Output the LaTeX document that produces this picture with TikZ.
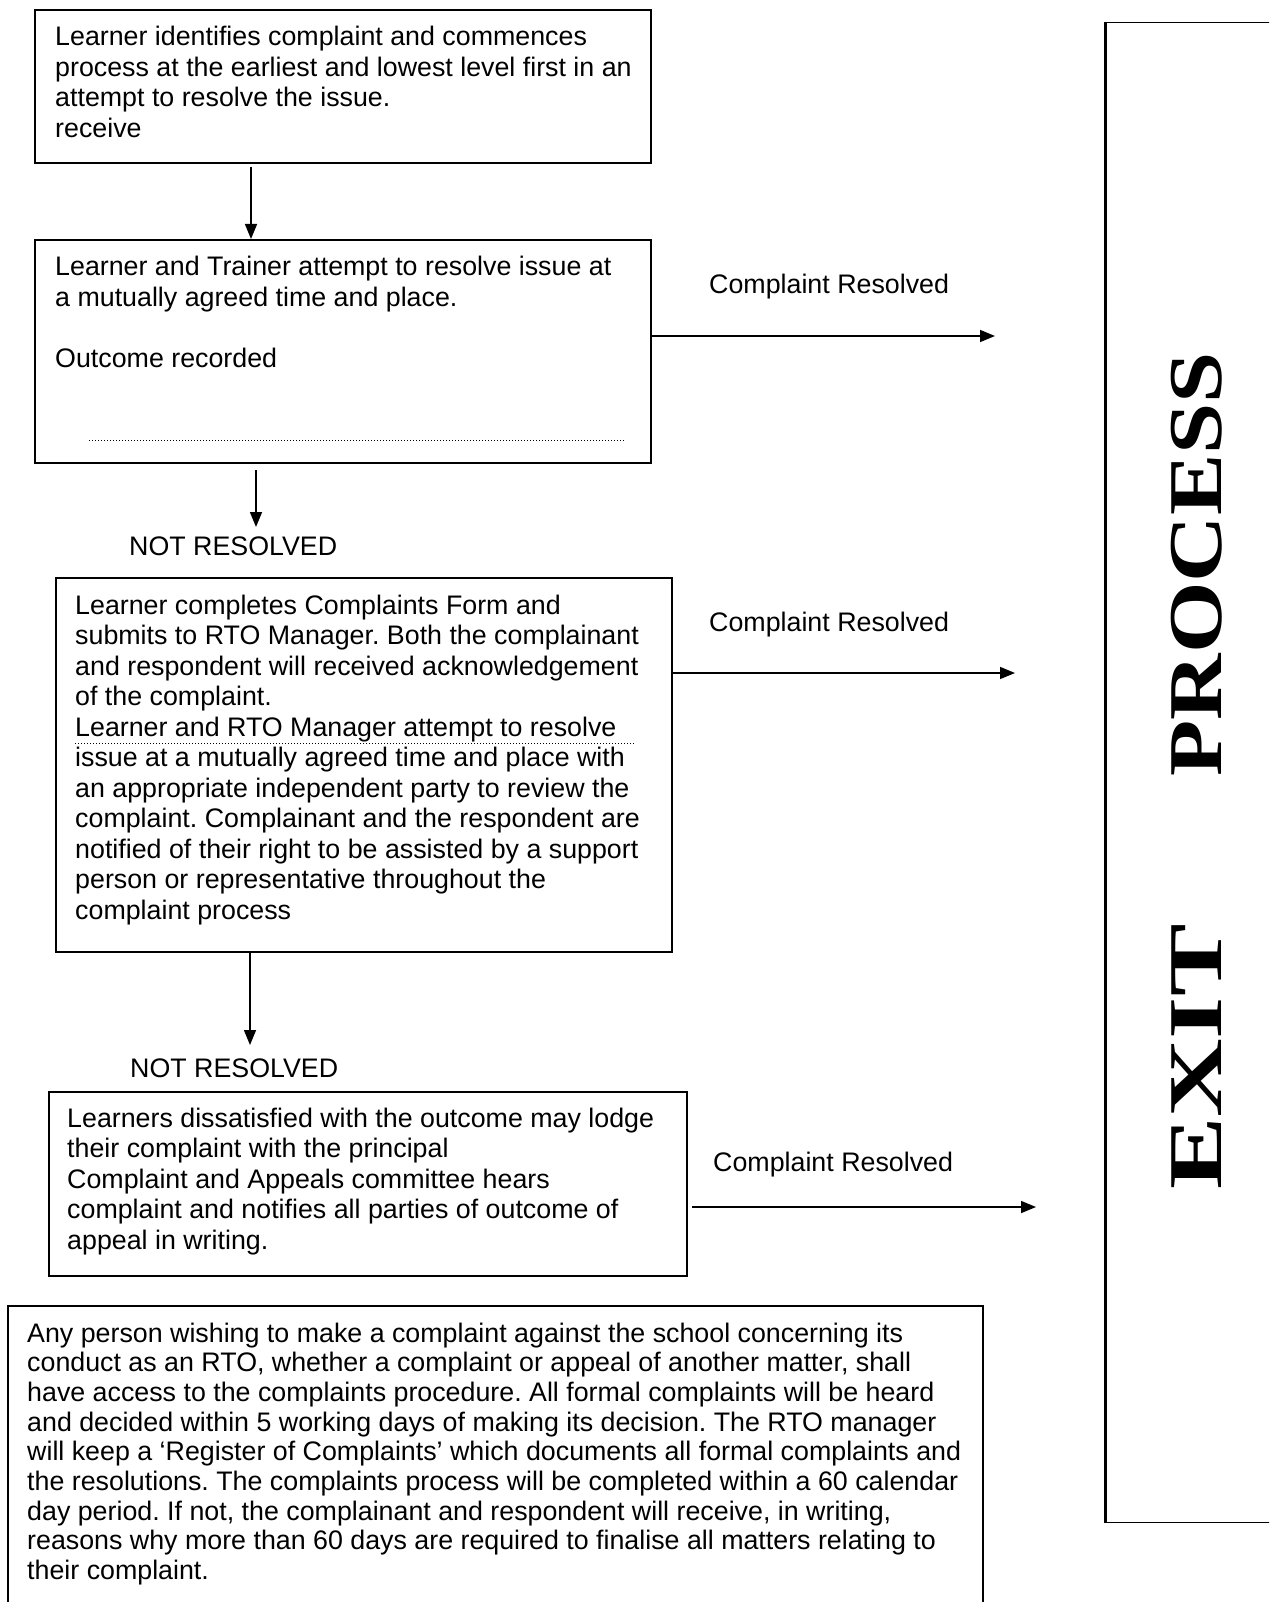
\documentclass[tikz,border=0pt]{standalone}
\usepackage{fontspec}
\setmainfont{Liberation Sans}
\newfontfamily\exitfont{Liberation Serif}
\usetikzlibrary{arrows.meta}
\frenchspacing
\newcommand{\bodyfont}{\fontsize{26.8}{30.5}\selectfont}
\newcommand{\tblock}[1]{\parbox[t]{1000pt}{\raggedright #1}}
\begin{document}
\begin{tikzpicture}[x=1pt,y=-1pt,
  box/.style={draw, line width=1.7pt, rectangle, inner sep=0pt, anchor=north west},
  txt/.style={anchor=base west, inner sep=0pt, font=\bodyfont},
  arr/.style={line width=1.5pt, -{Triangle[length=15pt,width=12pt]}},
  dotline/.style={line width=1pt, dash pattern=on 1pt off 2pt}]
\useasboundingbox (0,0) rectangle (1269,1602);
\fill[white] (0,0) rectangle (1269,1602);
\clip (0,0) rectangle (1269,1602);

% boxes
\node[box, minimum width=616pt, minimum height=153pt] (b1) at (34,9) {};
\node[box, minimum width=616pt, minimum height=223pt] (b2) at (34,239) {};
\node[box, minimum width=616pt, minimum height=374pt] (b3) at (55,577) {};
\node[box, minimum width=638pt, minimum height=184pt] (b4) at (48,1091) {};
\node[box, minimum width=975pt, minimum height=330pt] (b5) at (7,1305) {};
\node[box, line width=1.2pt, minimum width=220pt, minimum height=1500pt] (ex) at (1105,22) {};
\draw[line width=3pt] (ex.north west) -- (ex.south west);

% box texts
\node[txt] (t1) at (55,46) {\tblock{Learner identifies complaint and commences\\
process at the earliest and lowest level first in an\\
attempt to resolve the issue.\\
receive}};
\node[txt] (t2) at (55,276) {\tblock{Learner and Trainer attempt to resolve issue at\\
a mutually agreed time and place.\\[30.5pt]
Outcome recorded}};
\draw[dotline] (89,440) -- (625,440);
\node[txt] (t3) at (75,614) {\tblock{Learner completes Complaints Form and\\
submits to RTO Manager. Both the complainant\\
and respondent will received acknowledgement\\
of the complaint.\\
Learner and RTO Manager attempt to resolve\\
issue at a mutually agreed time and place with\\
an appropriate independent party to review the\\
complaint. Complainant and the respondent are\\
notified of their right to be assisted by a support\\
person or representative throughout the\\
complaint process}};
\draw[dotline] (75,743) -- (635,743);
\node[txt] (t4) at (67,1127) {\tblock{Learners dissatisfied with the outcome may lodge\\
their complaint with the principal\\
Complaint and Appeals committee hears\\
complaint and notifies all parties of outcome of\\
appeal in writing.}};
\node[txt, font=\fontsize{26.8}{29.7}\selectfont] (t5) at (27,1342) {\tblock{Any person wishing to make a complaint against the school concerning its\\
conduct as an RTO, whether a complaint or appeal of another matter, shall\\
have access to the complaints procedure. All formal complaints will be heard\\
and decided within 5 working days of making its decision. The RTO manager\\
will keep a ‘Register of Complaints’ which documents all formal complaints and\\
the resolutions. The complaints process will be completed within a 60 calendar\\
day period. If not, the complainant and respondent will receive, in writing,\\
reasons why more than 60 days are required to finalise all matters relating to\\
their complaint.}};

% labels
\node[txt] (nr1) at (129,555) {NOT RESOLVED};
\node[txt] (nr2) at (130,1077) {NOT RESOLVED};
\node[txt] (cr1) at (709,294) {Complaint Resolved};
\node[txt] (cr2) at (709,631) {Complaint Resolved};
\node[txt] (cr3) at (713,1171) {Complaint Resolved};

% exit text
\node[rotate=90, inner sep=0pt, font=\exitfont\bfseries\fontsize{76}{80}\selectfont] (ext) at (1197,771)
  {\scalebox{1.43}[1]{EXIT}\hspace{148pt}\scalebox{1.21}[1]{PROCESS}};

% arrows
\coordinate (a1s) at (251,167);
\draw[arr] (a1s) -- (a1s |- b2.north);
\coordinate (a2s) at (256,470);
\coordinate (a2e) at (256,527);
\draw[arr] (a2s) -- (a2e);
\coordinate (a3e) at (250,1045);
\draw[arr] (b3.south -| a3e) -- (a3e);
\coordinate (r1e) at (995,336);
\draw[arr] (b2.east |- r1e) -- (r1e);
\coordinate (r2e) at (1015,673);
\draw[arr] (b3.east |- r2e) -- (r2e);
\coordinate (r3s) at (692,1207);
\coordinate (r3e) at (1036,1207);
\draw[arr] (r3s) -- (r3e);
\end{tikzpicture}
\end{document}
